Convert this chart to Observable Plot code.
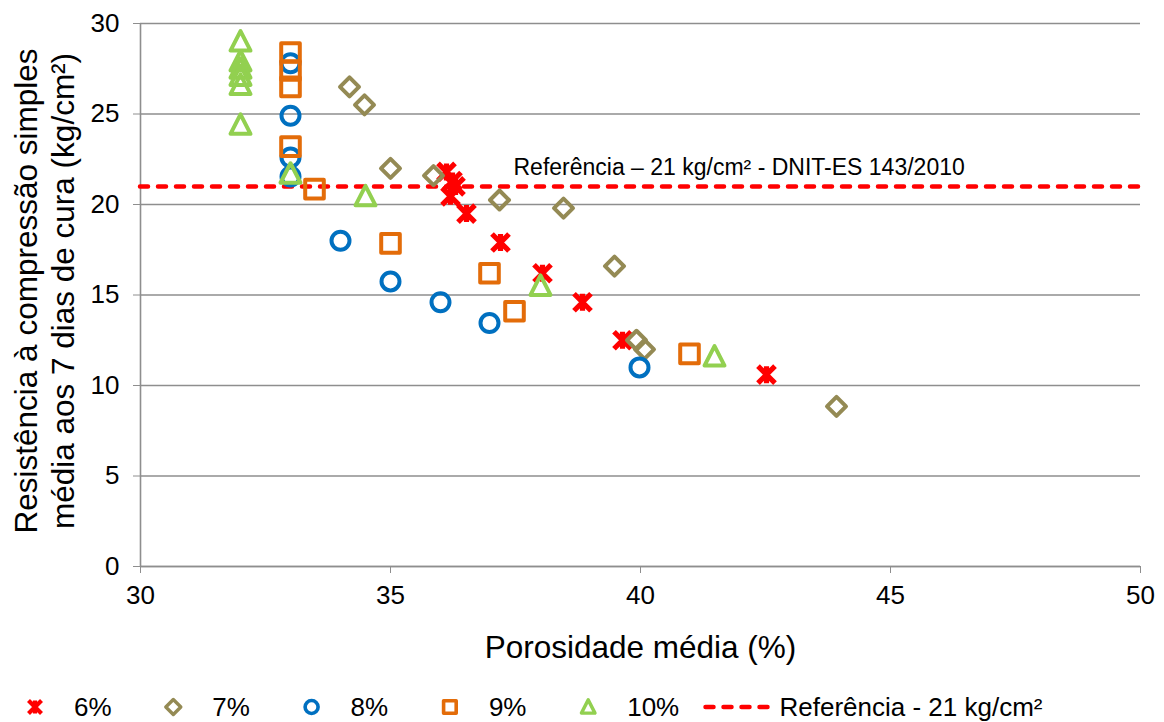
<!DOCTYPE html>
<html><head><meta charset="utf-8">
<script src="https://cdn.jsdelivr.net/npm/d3@7"></script>
<script src="https://cdn.jsdelivr.net/npm/@observablehq/plot@0.6"></script>
<style>
body{margin:0;background:#fff;font-family:"Liberation Sans",Arial,sans-serif;}
#chart svg,#legend svg{display:block}
</style></head><body>
<div id="chart"></div>
<div id="legend"></div>
<script>
// ---- data ----
const xTicks = [30, 35, 40, 45, 50];
const yTicks = [0, 5, 10, 15, 20, 25, 30];

const seriesNames = ["6%", "7%", "8%", "9%", "10%"];
const seriesColors = ["#FF0000", "#948A54", "#0070C0", "#E36C09", "#92D050"];

const s6x = [36.12, 36.24, 36.30, 36.20, 36.52, 37.20, 38.04, 38.84, 39.64, 42.52];
const s6y = [21.8, 21.3, 21.0, 20.45, 19.5, 17.9, 16.2, 14.6, 12.5, 10.6];

const s7x = [34.18, 34.48, 35.00, 35.86, 37.18, 38.46, 39.48, 39.92, 40.08, 43.92];
const s7y = [26.5, 25.5, 22.0, 21.6, 20.25, 19.8, 16.6, 12.5, 12.0, 8.85];

const s8x = [33.0, 33.0, 33.0, 33.0, 34.0, 35.0, 36.0, 36.98, 39.98];
const s8y = [27.8, 24.9, 22.6, 21.55, 18.0, 15.75, 14.6, 13.45, 11.0];

const s9x = [33.0, 33.0, 33.0, 33.0, 33.48, 35.0, 36.98, 37.48, 40.98];
const s9y = [28.4, 27.4, 26.5, 23.2, 20.85, 17.85, 16.2, 14.1, 11.75];

const s10x = [32.0, 32.0, 32.0, 32.0, 32.0, 32.0, 33.0, 34.5, 38.0, 41.48];
const s10y = [29.0, 27.9, 27.5, 27.1, 26.6, 24.4, 21.7, 20.45, 15.5, 11.6];

const refValue = [21];
const refLabel = "Referência – 21 kg/cm² - DNIT-ES 143/2010";
const refLabelX = 37.46;
const legendRefLabel = "Referência - 21 kg/cm²";
const xTitle = "Porosidade média (%)";
const yTitle = ["Resistência à compressão simples", "média aos 7 dias de cura (kg/cm²)"];

// ---- symbols ----
const rad = s => Math.sqrt(s / Math.PI);
const symX = {draw(c, s){const r = rad(s); c.moveTo(-r,-r); c.lineTo(r,r); c.moveTo(r,-r); c.lineTo(-r,r); c.moveTo(0,-r); c.lineTo(0,r);}};
const symDiamond = {draw(c, s){const r = rad(s); c.moveTo(0,-r); c.lineTo(r,0); c.lineTo(0,r); c.lineTo(-r,0); c.closePath();}};
const symCircle = {draw(c, s){const r = rad(s); c.moveTo(r,0); c.arc(0,0,r,0,2*Math.PI); c.closePath();}};
const symSquare = {draw(c, s){const r = rad(s); c.moveTo(-r,-r); c.lineTo(r,-r); c.lineTo(r,r); c.lineTo(-r,r); c.closePath();}};
const symTri = {draw(c, s){const r = rad(s); c.moveTo(0,-1.05*r); c.lineTo(r,0.9*r); c.lineTo(-r,0.9*r); c.closePath();}};

const series = [
  {xs: s6x, ys: s6y, sym: symX, r: 8.5, sw: 5.2, lr: 6.5, lsw: 4.2},
  {xs: s7x, ys: s7y, sym: symDiamond, r: 9.5, sw: 4, lr: 7.5, lsw: 3.4},
  {xs: s8x, ys: s8y, sym: symCircle, r: 9, sw: 4, lr: 6.5, lsw: 3.6},
  {xs: s9x, ys: s9y, sym: symSquare, r: 9.3, sw: 4, lr: 6.3, lsw: 3.6},
  {xs: s10x, ys: s10y, sym: symTri, r: 10, sw: 4, lr: 6.8, lsw: 3.4}
].map((s, i) => ({...s, name: seriesNames[i], color: seriesColors[i],
  data: s.xs.map((x, j) => ({x, y: s.ys[j]}))}));

const font = "Liberation Sans, Arial, sans-serif";
const grid = "#8e8e8e";

const chart = Plot.plot({
  width: 1164,
  height: 670,
  marginLeft: 140,
  marginRight: 24,
  marginTop: 23,
  marginBottom: 104,
  style: {fontFamily: font, background: "#fff", color: "black"},
  x: {domain: [30, 50]},
  y: {domain: [0, 30]},
  marks: [
    Plot.gridY({ticks: yTicks, stroke: grid, strokeOpacity: 1, strokeWidth: 1.6}),
    Plot.ruleX([30], {stroke: grid, strokeWidth: 1.6}),
    Plot.ruleY([0], {stroke: grid, strokeWidth: 1.6}),
    Plot.axisY({ticks: yTicks, tickSize: 7, tickPadding: 14, fontSize: 26, stroke: grid, fill: "black", label: null}),
    Plot.axisX({ticks: xTicks, tickSize: 7, tickPadding: 12, fontSize: 26, stroke: grid, fill: "black", label: null}),
    Plot.ruleY(refValue, {stroke: "#FF0000", strokeWidth: 4.5, strokeDasharray: "8,10", strokeLinecap: "round"}),
    ...series.map(s => Plot.dot(s.data, {x: "x", y: "y", symbol: s.sym, r: s.r, stroke: s.color, fill: "none", strokeWidth: s.sw, strokeLinejoin: "round"})),
    Plot.text([{x: refLabelX, y: refValue[0], t: refLabel}], {x: "x", y: "y", text: "t", textAnchor: "start", lineAnchor: "bottom", dy: -11, fontSize: 23, fill: "black"}),
    Plot.text([xTitle], {text: d => d, frameAnchor: "bottom", textAnchor: "middle", lineAnchor: "bottom", dy: 91, fontSize: 31.5, fill: "black"}),
    Plot.text([yTitle[0]], {text: d => d, frameAnchor: "left", textAnchor: "middle", rotate: -90, lineAnchor: "bottom", dx: -104, dy: -4, fontSize: 31.5, fill: "black"}),
    Plot.text([yTitle[1]], {text: d => d, frameAnchor: "left", textAnchor: "middle", rotate: -90, lineAnchor: "bottom", dx: -67, dy: -4, fontSize: 31.5, fill: "black"})
  ]
});
document.getElementById("chart").appendChild(chart);

// ---- legend ----
const lg = d3.select("#legend").append("svg").attr("width", 1164).attr("height", 52)
  .style("font-family", font);
const cy = 37;
const step = 138.3;
series.forEach((s, i) => {
  const cx = 35 + i * step;
  lg.append("path")
    .attr("transform", `translate(${cx},${cy})`)
    .attr("d", d3.symbol(s.sym, Math.PI * s.lr * s.lr)())
    .attr("fill", "none").attr("stroke", s.color).attr("stroke-width", s.lsw).attr("stroke-linejoin", "round");
  lg.append("text").attr("x", cx + 39).attr("y", cy).attr("dy", "0.36em")
    .attr("font-size", 26).attr("fill", "black").text(s.name);
});
const lx0 = 35 + 5 * step - 21;
lg.append("line").attr("x1", lx0).attr("x2", lx0 + 70).attr("y1", cy).attr("y2", cy)
  .attr("stroke", "#FF0000").attr("stroke-width", 4.5).attr("stroke-dasharray", "8,10").attr("stroke-linecap", "round");
lg.append("text").attr("x", lx0 + 74).attr("y", cy).attr("dy", "0.36em")
  .attr("font-size", 26).attr("fill", "black").text(legendRefLabel);
</script>
</body></html>
